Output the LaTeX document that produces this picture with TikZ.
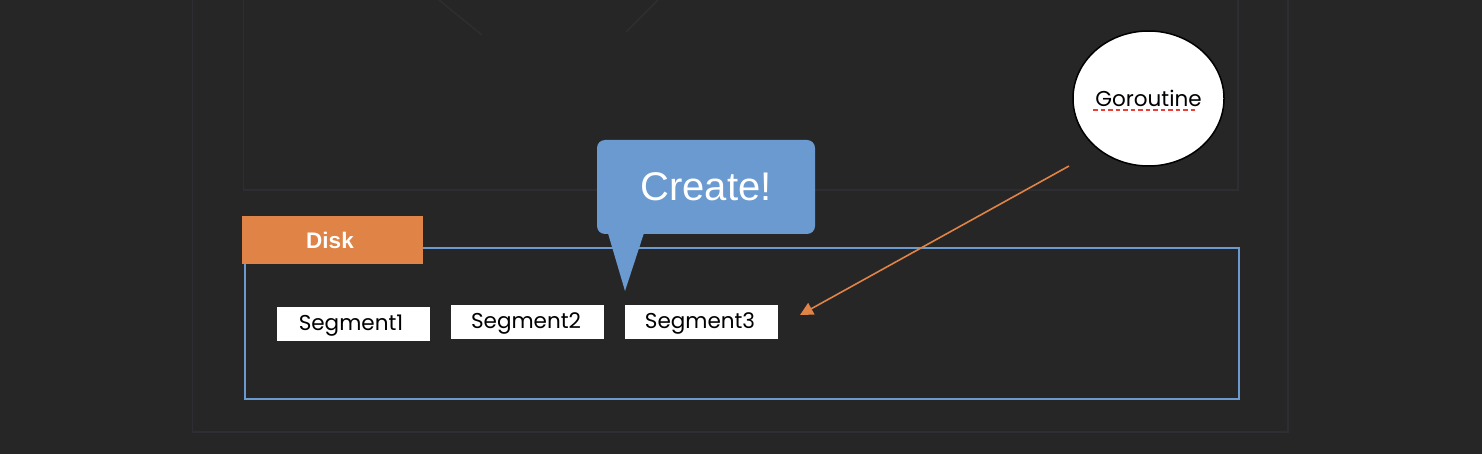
\documentclass[tikz,border=0pt]{standalone}
\usepackage{fontspec}
\setmainfont{Liberation Sans}
\newfontfamily\gothicfont{Poppins}
\usetikzlibrary{positioning}
\usetikzlibrary{shapes.geometric}
\usetikzlibrary{arrows.meta}

\definecolor{bgdark}{RGB}{38,38,38}
\definecolor{framegrey}{RGB}{46,46,50}
\definecolor{diskblue}{RGB}{106,154,208}
\definecolor{diskorange}{RGB}{224,131,71}
\definecolor{spellred}{RGB}{232,64,56}

\tikzset{
  segbox/.style={fill=white,minimum width=153,minimum height=34,inner sep=0pt,text height=15,text depth=3,font=\gothicfont\fontsize{21.5}{21.5}\selectfont},
  disktag/.style={fill=diskorange,minimum width=181,minimum height=48,inner sep=0pt,text=white,font=\bfseries\fontsize{22.5}{22.5}\selectfont},
  bubble/.style={fill=diskblue,rounded corners=8,minimum width=218,minimum height=94,inner sep=0pt,text=white,font=\fontsize{40}{40}\selectfont},
  gorball/.style={ellipse,draw=black,line width=1.5,fill=white,minimum width=151,minimum height=135,inner sep=0pt,text height=17,text depth=0,font=\gothicfont\fontsize{21.5}{21.5}\selectfont},
  goarrow/.style={draw=diskorange,line width=1.6,-{Triangle[length=13,width=13]}}
}

\begin{document}
\begin{tikzpicture}[x=1pt,y=1pt,yscale=-1,xscale=1]
\useasboundingbox (0,0) rectangle (1482,454);
\fill[bgdark] (0,0) rectangle (1482,454);

%Shape: Frame [outer]
\draw[framegrey,line width=1.5] (192.5,-5) -- (192.5,432) -- (1288,432) -- (1288,-5) ;
%Shape: Frame [inner]
\draw[framegrey,line width=1.5] (243.5,-5) -- (243.5,190) -- (1238,190) -- (1238,-5) ;
%Shape: Lines [top]
\draw[framegrey,line width=1.5] (439,0) -- (482,35) ;
\draw[framegrey,line width=1.5] (658,0) -- (626,32) ;

%Shape: Rectangle [disk]
\draw[diskblue,line width=2] (245,248) rectangle (1239,399) ;

% Text Node
\node[disktag] (disk) at (332.5,240) {\hspace*{-5pt}Disk};
% Text Node
\node[segbox] (seg1) at (353.5,324) {\hspace*{-5pt}Segment1};
\node[segbox] (seg2) at (527.5,322) {\hspace*{-3pt}Segment2};
\node[segbox] (seg3) at (701.5,322) {\hspace*{-3pt}Segment3};

%Shape: Callout
\fill[diskblue] (607,230) -- (625,291) -- (645,230) -- cycle ;
\node[bubble] (create) at (706,187) {Create!};

%Shape: Circle
\node[gorball] (gor) at (1148.5,98.5) {Goroutine};
\draw[spellred,line width=2.8,dash pattern=on 4.5 off 3] (1093,110) -- (1198,110) ;

%Straight Lines
\coordinate (gstart) at (1069,166);
\coordinate (gend) at (800,315);
\draw[goarrow] (gstart) -- (gend) ;

\end{tikzpicture}
\end{document}
